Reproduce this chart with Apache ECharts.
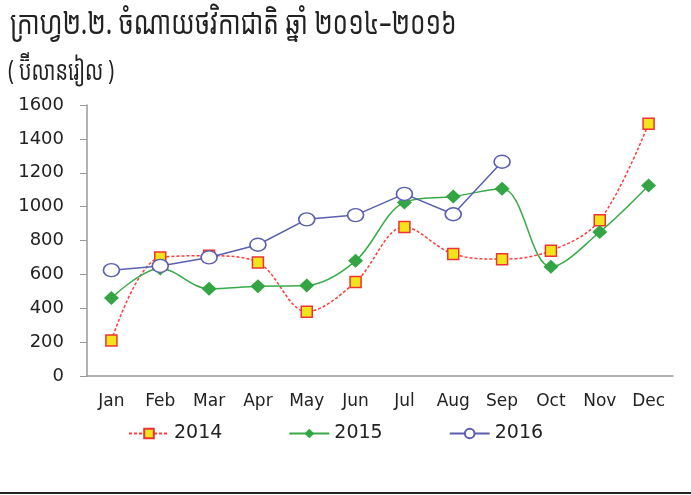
<!DOCTYPE html>
<html>
<head>
<meta charset="utf-8">
<script src="https://cdn.jsdelivr.net/npm/echarts@6/dist/echarts.min.js"></script>
<style>
  html, body { margin: 0; padding: 0; background: #fff; }
  #chart { width: 691px; height: 495px; }
</style>
</head>
<body>
<div id="chart"></div>
<script>
const months = ['Jan', 'Feb', 'Mar', 'Apr', 'May', 'Jun', 'Jul', 'Aug', 'Sep', 'Oct', 'Nov', 'Dec']
const y2014 = [210, 700, 710, 670, 380, 555, 880, 720, 690, 740, 920, 1490]
const y2015 = [460, 635, 515, 530, 535, 680, 1025, 1060, 1105, 645, 850, 1125]
const y2016 = [625, 650, 700, 775, 925, 950, 1075, 955, 1265]
const yTicks = { min: 0, max: 1600, step: 200 }

const chart = echarts.init(document.getElementById('chart'))

const khmerFont = 'Noto Sans Khmer, DejaVu Sans, sans-serif'

const option = {
  animation: false,
  legend: {
    left: 123,
    top: 419,
    itemWidth: 40,
    itemHeight: 12,
    itemGap: 66,
    textStyle: { fontSize: 19, color: '#222', fontFamily: 'DejaVu Sans' },
    data: ['2014', '2015', '2016']
  },
  grid: { left: 87, right: 18, top: 105, bottom: 119 },
  xAxis: {
    type: 'category',
    data: months,
    boundaryGap: true,
    axisLine: { lineStyle: { color: '#999', width: 1.5 } },
    axisTick: { alignWithLabel: true, length: 5, lineStyle: { color: '#999' } },
    axisLabel: { fontSize: 17, color: '#222', margin: 17, fontFamily: 'DejaVu Sans', interval: 0 }
  },
  yAxis: {
    type: 'value',
    min: yTicks.min,
    max: yTicks.max,
    interval: yTicks.step,
    axisLine: { show: true, lineStyle: { color: '#999', width: 1.5 } },
    axisTick: { show: true, length: 7, lineStyle: { color: '#999' } },
    splitLine: { show: false },
    axisLabel: { fontSize: 18, color: '#222', margin: 23, fontFamily: 'DejaVu Sans', formatter: v => String(v) }
  },
  series: [
    {
      name: '2014',
      type: 'line',
      data: y2014,
      smooth: 0.35,
      symbol: 'rect',
      symbolSize: 11,
      lineStyle: { color: '#ff3b3b', width: 1.5, type: [3, 2] },
      itemStyle: { color: '#f2e41a', borderColor: '#ee3333', borderWidth: 1.5 }
    },
    {
      name: '2015',
      type: 'line',
      data: y2015,
      smooth: 0.35,
      symbol: 'diamond',
      symbolSize: [15, 14],
      lineStyle: { color: '#3aaa48', width: 1.5 },
      itemStyle: { color: '#33a544', borderColor: '#33a544', borderWidth: 0 }
    },
    {
      name: '2016',
      type: 'line',
      data: y2016,
      symbol: 'circle',
      symbolSize: [16, 13],
      lineStyle: { color: '#5a5fb0', width: 1.5 },
      itemStyle: { color: '#fff', borderColor: '#5a5fb0', borderWidth: 1.5 }
    }
  ],
  graphic: [
    {
      type: 'text',
      x: 10,
      y: 8,
      scaleX: 0.79,
      scaleY: 1.05,
      style: { text: 'ក្រាហ្វ២.២. ចំណាយថវិកាជាតិ ឆ្នាំ ២០១៤–២០១៦', font: '31px ' + khmerFont, fill: '#222' }
    },
    {
      type: 'text',
      x: 8,
      y: 59,
      scaleX: 0.82,
      scaleY: 1.1,
      style: { text: '( ប៊ីលានរៀល )', font: '24px ' + khmerFont, fill: '#222' }
    },
    {
      type: 'line',
      shape: { x1: 0, y1: 493, x2: 691, y2: 493 },
      style: { stroke: '#222', lineWidth: 2 }
    }
  ]
}

chart.setOption(option)
</script>
</body>
</html>
